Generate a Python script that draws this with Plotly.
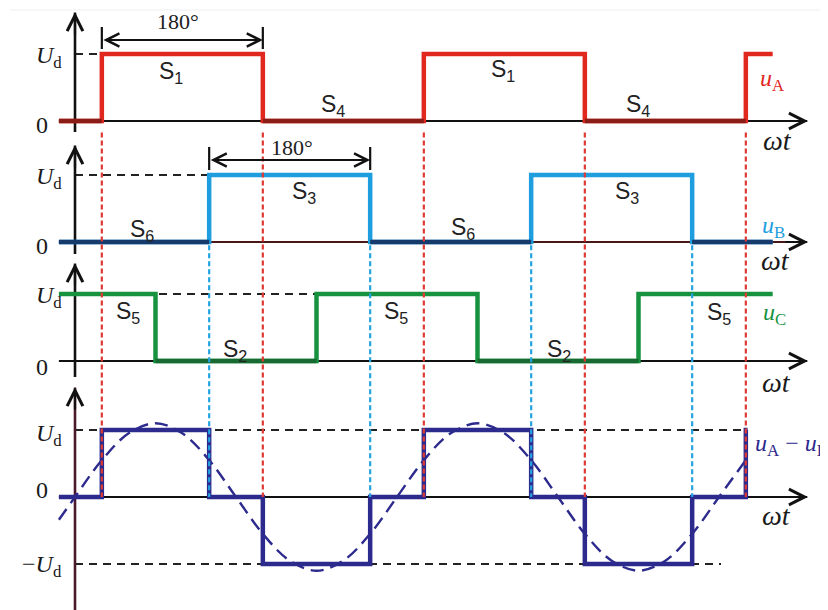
import plotly.graph_objects as go

# ---------------- data ----------------
# switching instants (electrical degrees) and per-interval levels (units of Ud)
edges_deg = [-18, 30, 90, 150, 210, 270, 330, 390, 450, 510, 570, 630, 690, 750, 780]
uA_levels = [0, 1, 1, 1, 0, 0, 0, 1, 1, 1, 0, 0, 0, 1]
uB_levels = [0, 0, 0, 1, 1, 1, 0, 0, 0, 1, 1, 1, 0, 0]
uC_levels = [1, 1, 0, 0, 0, 1, 1, 1, 0, 0, 0, 1, 1, 1]
uAB_end_deg = 752
# fundamental of uA - uB (dashed curve), read every 30 degrees
fund_deg = [-18, 0, 30, 60, 90, 120, 150, 180, 210, 240, 270, 300, 330, 360,
            390, 420, 450, 480, 510, 540, 570, 600, 630, 660, 690, 720, 750]
fund_val = [-0.34, 0, 0.55, 0.95, 1.1, 0.95, 0.55, 0, -0.55, -0.95, -1.1, -0.95, -0.55, 0,
            0.55, 0.95, 1.1, 0.95, 0.55, 0, -0.55, -0.95, -1.1, -0.95, -0.55, 0, 0.55]
uA_switch_deg = [30, 210, 390, 570, 750]
uB_switch_deg = [150, 330, 510, 690]
switch_labels_A = [("S<sub>1</sub>", 171, 72), ("S<sub>4</sub>", 333, 105),
                   ("S<sub>1</sub>", 503, 70), ("S<sub>4</sub>", 638, 105)]
switch_labels_B = [("S<sub>6</sub>", 142, 230), ("S<sub>3</sub>", 304, 192),
                   ("S<sub>6</sub>", 463, 228), ("S<sub>3</sub>", 627, 192)]
switch_labels_C = [("S<sub>5</sub>", 128, 312), ("S<sub>2</sub>", 235, 350),
                   ("S<sub>5</sub>", 396, 312), ("S<sub>2</sub>", 559, 350),
                   ("S<sub>5</sub>", 719, 313)]

# ---------------- layout helpers ----------------
PAGE_W, PAGE_H = 828, 610
BODY = 8               # default page margin around the plot div
W, H = PAGE_W - BODY, PAGE_H - BODY
AX0_PX = 75            # page pixel column of the vertical axes (0 deg)
PXD = 161 / 180        # pixels per degree
UNIT = 67              # pixels per Ud
ZERO_PX = [121, 242, 361, 497]   # page-pixel zero line of each panel


def X(px):
    return (px - AX0_PX) / PXD


def Y(px):
    return (ZERO_PX[0] - px) / UNIT


BASE = [Y(z) for z in ZERO_PX]

RED, RED_D = "#e1281f", "#8a1d18"
BLUE, BLUE_D = "#1e9ddf", "#163a6c"
GREEN, GREEN_D = "#17923f", "#176a32"
NAVY = "#2c2a8c"
SERIF = "Liberation Serif"
SANS = "Liberation Sans"
LW = 4.5


def step_xy(edges, levels, base):
    xs, ys = [], []
    for i, lv in enumerate(levels):
        xs += [edges[i], edges[i + 1]]
        ys += [base + lv, base + lv]
    return xs, ys


def low_xy(edges, levels, base):
    xs, ys = [], []
    i = 0
    while i < len(levels):
        if levels[i] == 0:
            j = i
            while j + 1 < len(levels) and levels[j + 1] == 0:
                j += 1
            xs += [edges[i], edges[j + 1], None]
            ys += [base, base, None]
            i = j + 1
        else:
            i += 1
    return xs, ys


fig = go.Figure()
shapes = []
ann = []


def hline(x0, x1, y, color, width, dash="solid", layer="below"):
    shapes.append(dict(type="line", xref="x", yref="y", x0=x0, x1=x1, y0=y, y1=y,
                       line=dict(color=color, width=width, dash=dash), layer=layer))


def vline(x, y0, y1, color, width, dash="solid", layer="below"):
    shapes.append(dict(type="line", xref="x", yref="y", x0=x, x1=x, y0=y0, y1=y1,
                       line=dict(color=color, width=width, dash=dash), layer=layer))


def arrow_head(x, y, dx, dy, color="#111111"):
    ann.append(dict(x=x, y=y, xref="x", yref="y", ax=dx, ay=dy, text="", showarrow=True,
                    arrowhead=5, arrowsize=1.4, arrowwidth=2.2, arrowcolor=color, standoff=0))


# faint frame line at top
shapes.append(dict(type="line", xref="x", yref="y", x0=X(10), x1=X(PAGE_W), y0=Y(10), y1=Y(10),
                   line=dict(color="#eeeeee", width=1), layer="below"))

# Ud reference dashes
UD_DASH = "8px,6px"
hline(0, X(130), BASE[0] + 1, "#222222", 2, UD_DASH)
hline(0, X(248), BASE[1] + 1, "#222222", 2, UD_DASH)
hline(0, X(328), BASE[2] + 1, "#222222", 2, UD_DASH)
hline(0, X(746), BASE[3] + 1, "#222222", 2, UD_DASH)
hline(0, X(721), BASE[3] - 1, "#222222", 2, UD_DASH)

# axes
x_tip = X(808)
axis_cols = ["#111111", "#4a1616", "#111111", "#111111"]
v_cols = ["#111111", "#111111", "#111111", "#4a1a2c"]
v_top = [12, 145, 263, 387]
v_bot = [132, 254, 377, 610]
for k in range(4):
    hline(edges_deg[0], x_tip - 1, BASE[k], axis_cols[k], 2.2)
    arrow_head(x_tip, BASE[k], -24, 0, "#111111")
    vline(0, Y(v_bot[k]), Y(v_top[k]) - 0.01, v_cols[k], 2.6)
    arrow_head(0, Y(v_top[k]), 0, 24, "#111111")

# waveforms
for levels, base, c_hi, c_lo in [(uA_levels, BASE[0], RED, RED_D),
                                 (uB_levels, BASE[1], BLUE, BLUE_D),
                                 (uC_levels, BASE[2], GREEN, GREEN_D)]:
    xs, ys = step_xy(edges_deg, levels, base)
    fig.add_trace(go.Scatter(x=xs, y=ys, mode="lines", line=dict(color=c_hi, width=LW),
                             hoverinfo="skip", showlegend=False))
    xs, ys = low_xy(edges_deg, levels, base)
    fig.add_trace(go.Scatter(x=xs, y=ys, mode="lines", line=dict(color=c_lo, width=LW),
                             hoverinfo="skip", showlegend=False))

uAB_levels = [a - b for a, b in zip(uA_levels, uB_levels)]
d_edges = edges_deg[:-1] + [uAB_end_deg]
xs, ys = step_xy(d_edges, uAB_levels, BASE[3])
fig.add_trace(go.Scatter(x=xs, y=ys, mode="lines", line=dict(color=NAVY, width=LW),
                         hoverinfo="skip", showlegend=False))
fig.add_trace(go.Scatter(x=fund_deg, y=[BASE[3] + v for v in fund_val], mode="lines",
                         line=dict(color=NAVY, width=2.4, dash="13px,7px", shape="spline"),
                         hoverinfo="skip", showlegend=False))

# projection lines of the switching instants
for d in uA_switch_deg:
    vline(d, BASE[0] - 0.17, BASE[3], "#df3a33", 2.2, "5px,3px", layer="above")
for d in uB_switch_deg:
    vline(d, BASE[1] - 0.05, BASE[3], "#23a2e0", 2.2, "5px,3px", layer="above")

# 180 degree dimension arrows
for (d0, d1, y_px, t0, t1, lab_px) in [(30, 210, 40, 27, 49, (178, 21)),
                                        (150, 330, 160, 147, 170, (292, 147))]:
    vline(d0, Y(t1), Y(t0), "#111111", 2.2, layer="above")
    vline(d1, Y(t1), Y(t0), "#111111", 2.2, layer="above")
    ann.append(dict(x=d1, y=Y(y_px), ax=d0, ay=Y(y_px), xref="x", yref="y", axref="x", ayref="y",
                    text="", showarrow=True, arrowhead=5, startarrowhead=5, arrowside="end+start",
                    arrowsize=1.3, startarrowsize=1.3, arrowwidth=2, arrowcolor="#111111", standoff=0,
                    startstandoff=0))
    ann.append(dict(x=X(lab_px[0]), y=Y(lab_px[1]), xref="x", yref="y", text="180°", showarrow=False,
                    font=dict(family=SERIF, size=22, color="#222222")))


def text(s, px, py, size, color="#1a1a1a", family=SERIF, xanchor="center"):
    ann.append(dict(x=X(px), y=Y(py), xref="x", yref="y", text=s, showarrow=False,
                    xanchor=xanchor, yanchor="middle", font=dict(family=family, size=size, color=color)))


# vertical-axis labels
for py in [57, 178, 297, 435]:
    text("<i>U</i><sub>d</sub>", 64, py, 24, xanchor="right")
for py in [125, 246, 367, 490]:
    text("0", 42, py, 24)
text("−<i>U</i><sub>d</sub>", 64, 566, 24, xanchor="right")

# time-axis labels
for px, py in [(777, 140), (775, 260), (776, 382), (776, 515)]:
    text("<i>ωt</i>", px, py, 28)

# curve names
text("<i>u</i><sub>A</sub>", 772, 80, 24, RED)
text("<i>u</i><sub>B</sub>", 773, 227, 24, BLUE)
text("<i>u</i><sub>C</sub>", 774, 314, 24, GREEN)
text("<i>u</i><sub>A</sub> − <i>u</i><sub>B</sub>", 753, 445, 24, NAVY, xanchor="left")

# switch labels
for lab_list in [switch_labels_A, switch_labels_B, switch_labels_C]:
    for s, px, py in lab_list:
        text(s, px, py, 23, "#222222", SANS)

fig.update_layout(
    width=W, height=H, margin=dict(l=0, r=0, t=0, b=0),
    paper_bgcolor="white", plot_bgcolor="white",
    xaxis=dict(range=[X(BODY), X(PAGE_W)], visible=False, fixedrange=True),
    yaxis=dict(range=[Y(PAGE_H), Y(BODY)], visible=False, fixedrange=True),
    shapes=shapes, annotations=ann, showlegend=False,
)
fig.write_html("out.html")
